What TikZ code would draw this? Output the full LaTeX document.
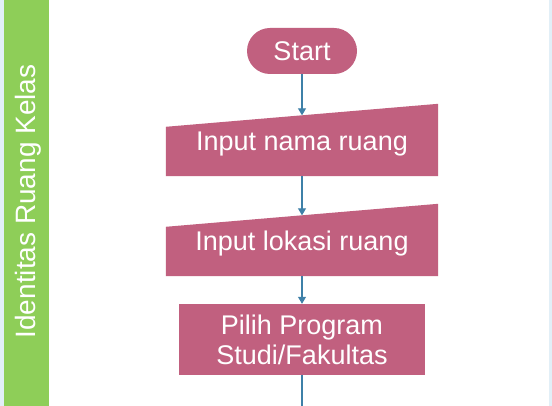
\documentclass[tikz,border=0pt]{standalone}
\usepackage{fontspec}
\setmainfont{Liberation Sans}
\usepackage{tikz}
\usetikzlibrary{arrows.meta}

\definecolor{flowpink}{RGB}{193,96,127}
\definecolor{lanegreen}{RGB}{142,206,88}
\definecolor{flowblue}{RGB}{62,128,168}
\definecolor{laneedge}{RGB}{226,239,247}

\begin{document}
\begin{tikzpicture}[x=1pt, y=-1pt]
    \tikzstyle{terminal} = [rectangle, rounded corners=23pt, fill=flowpink, text=white, inner sep=0pt, minimum width=110pt, minimum height=46pt, font=\fontsize{27}{30}\selectfont]
    \tikzstyle{manin} = [rectangle, text=white, inner sep=0pt, minimum width=272pt, minimum height=72pt, font=\fontsize{27}{30}\selectfont]
    \tikzstyle{process} = [rectangle, fill=flowpink, text=white, align=center, inner sep=0pt, minimum width=246pt, minimum height=71pt, font=\fontsize{27}{30}\selectfont]
    \tikzstyle{flow} = [flowblue, line width=1.2pt, -{Triangle[width=8pt,length=7pt]}]

    % Lane background
    \useasboundingbox (0,0) rectangle (552,406);
    \fill[laneedge] (0,0) rectangle (552,406);
    \fill[white] (4,0) rectangle (549,406);
    \fill[lanegreen] (4,0) rectangle (49,406);
    \node[rotate=90, text=white, font=\fontsize{28}{30}\selectfont] (lane) at (28,201.5) {Identitas Ruang Kelas};

    % Steps
    \node[terminal] (start) at (302,51) {Start};
    \node[manin] (nama) at (302,140) {};
    \fill[flowpink] (nama.south west) -- (nama.south east) -- (nama.north east) -- ([yshift=-23pt]nama.north west) -- cycle;
    \node[text=white, font=\fontsize{27}{30}\selectfont] (namatxt) at (302,144) {Input nama ruang};
    \node[manin] (lokasi) at (302,240) {};
    \fill[flowpink] (lokasi.south west) -- (lokasi.south east) -- (lokasi.north east) -- ([yshift=-23pt]lokasi.north west) -- cycle;
    \node[text=white, font=\fontsize{27}{30}\selectfont] (lokasitxt) at (302,244) {Input lokasi ruang};
    \node[process] (prodi) at (302,339.5) {Pilih Program\\Studi/Fakultas};
    \coordinate (down) at (302,406);

    % Connectors
    \draw[flow] (start) -- ([yshift=-11.5pt]nama.north);
    \draw[flow] (nama) -- ([yshift=-11.5pt]lokasi.north);
    \draw[flow] (lokasi) -- (prodi);
    \draw[flowblue, line width=1.2pt] (prodi) -- (down);

\end{tikzpicture}
\end{document}
